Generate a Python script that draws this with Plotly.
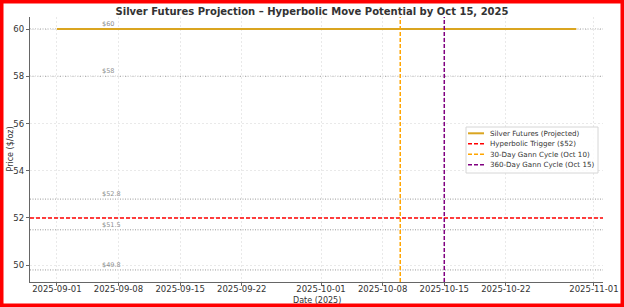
import plotly.graph_objects as go

# ---- data ----
silver_dates = ["2025-09-01", "2025-10-30"]
silver_prices = [60, 60]
trigger_level = 52
gann30_date = "2025-10-10"
gann360_date = "2025-10-15"
level_values = [60, 58, 52.8, 51.5, 49.8]
level_labels = ["$60", "$58", "$52.8", "$51.5", "$49.8"]
level_label_date = "2025-09-06"
x_tick_vals = ["2025-09-01", "2025-09-08", "2025-09-15", "2025-09-22", "2025-10-01",
               "2025-10-08", "2025-10-15", "2025-10-22", "2025-11-01"]
y_tick_vals = [50, 52, 54, 56, 58, 60]
x_range = ["2025-08-28 22:48", "2025-11-02 00:40"]
y_range = [49.29, 60.51]

legend_names = ["Silver Futures (Projected)", "Hyperbolic Trigger ($52)",
                "30-Day Gann Cycle (Oct 10)", "360-Day Gann Cycle (Oct 15)"]
legend_colors = ["#DAA520", "red", "orange", "purple"]
legend_dashes = ["solid", "4px,2px", "4px,2px", "4px,2px"]

FONT = "DejaVu Sans"
PW, PH = 573, 265  # plot area size in px
L, T, B = 30, 17, 25

def px_x(p):
    return (p - L) / PW

def px_y(p):
    return (T + PH - p) / PH

fig = go.Figure()

# grey dotted reference levels
for v in level_values:
    fig.add_shape(type="line", xref="paper", x0=0, x1=1, yref="y", y0=v, y1=v,
                  line=dict(color="rgba(128,128,128,0.8)", width=1, dash="1px,1.5px"), layer="below")
for v, t in zip(level_values, level_labels):
    fig.add_annotation(x=level_label_date, y=v, text=t, showarrow=False,
                       xanchor="left", yanchor="bottom", yshift=-1, xshift=-1,
                       font=dict(family=FONT, size=6.5, color="#8f8f8f"))

fig.add_trace(go.Scatter(x=silver_dates, y=silver_prices, mode="lines",
                         name=legend_names[0],
                         line=dict(color=legend_colors[0], width=2)))
fig.add_trace(go.Scatter(x=[x_range[0], x_range[1]], y=[trigger_level, trigger_level],
                         mode="lines", name=legend_names[1],
                         line=dict(color=legend_colors[1], width=1.5, dash=legend_dashes[1])))
fig.add_trace(go.Scatter(x=[gann30_date, gann30_date], y=y_range, mode="lines",
                         name=legend_names[2],
                         line=dict(color=legend_colors[2], width=1.5, dash=legend_dashes[2])))
fig.add_trace(go.Scatter(x=[gann360_date, gann360_date], y=y_range, mode="lines",
                         name=legend_names[3],
                         line=dict(color=legend_colors[3], width=1.5, dash=legend_dashes[3])))

# custom compact legend
fig.add_shape(type="rect", xref="paper", yref="paper",
              x0=px_x(466), x1=px_x(598), y0=px_y(173), y1=px_y(127),
              line=dict(color="#d6d6d6", width=1), fillcolor="rgba(255,255,255,0.85)")
item_y = [133.3, 143.8, 154.3, 164.8]
for name, col, dash, yy in zip(legend_names, legend_colors, legend_dashes, item_y):
    fig.add_shape(type="line", xref="paper", yref="paper",
                  x0=px_x(468), x1=px_x(484), y0=px_y(yy), y1=px_y(yy),
                  line=dict(color=col, width=1.5 if dash != "solid" else 2, dash=dash))
    fig.add_annotation(xref="paper", yref="paper", x=px_x(488), y=px_y(yy), text=name,
                       showarrow=False, xanchor="left", yanchor="middle",
                       font=dict(family=FONT, size=7.1, color="#333333"))

# axis titles
fig.add_annotation(xref="paper", yref="paper", x=0.5, y=0, yshift=-18, text="Date (2025)",
                   showarrow=False, xanchor="center", yanchor="middle",
                   font=dict(family=FONT, size=8, color="#333333"))
fig.add_annotation(xref="paper", yref="paper", x=0, y=0.5, xshift=-20, text="Price ($/oz)",
                   textangle=-90, showarrow=False, xanchor="center", yanchor="middle",
                   font=dict(family=FONT, size=8, color="#333333"))

# red frame around image
fig.add_shape(type="rect", xref="paper", yref="paper",
              x0=-L / PW, x1=(624 - L) / PW, y0=-B / PH, y1=1 + T / PH,
              line=dict(color="red", width=7), fillcolor="rgba(0,0,0,0)")

axis_common = dict(
    tickfont=dict(family=FONT, size=8.5, color="#333333"),
    showgrid=True, gridcolor="#e9e9e9", griddash="2px,2px", gridwidth=0.8,
    showline=True, linecolor="#666666", linewidth=1.2,
    ticks="outside", ticklen=3, tickcolor="#666666",
    zeroline=False, automargin=False,
)

fig.update_layout(
    width=624, height=307,
    margin=dict(l=L, r=624 - L - PW, t=T, b=B),
    paper_bgcolor="white", plot_bgcolor="white",
    font=dict(family=FONT, color="#333333"),
    title=dict(text="<b>Silver Futures Projection – Hyperbolic Move Potential by Oct 15, 2025</b>",
               x=0.5, xanchor="center", y=1 - 11 / 307, yanchor="middle",
               font=dict(family=FONT, size=10, color="#333333")),
    xaxis=dict(range=x_range, tickvals=x_tick_vals, ticktext=x_tick_vals,
               ticklabelstandoff=-4, **axis_common),
    yaxis=dict(range=y_range, tickvals=y_tick_vals, **axis_common),
    showlegend=False,
)

fig.write_html("out.html")
